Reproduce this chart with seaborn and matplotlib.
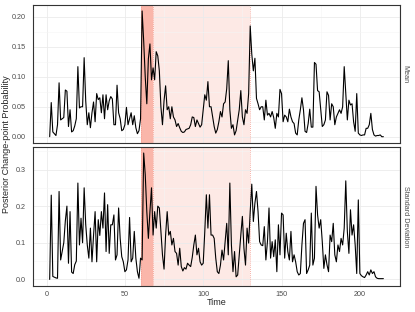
import numpy as np
import pandas as pd
import seaborn as sns
import matplotlib
matplotlib.use("Agg")
import matplotlib.pyplot as plt
from matplotlib.ticker import MultipleLocator, FormatStrFormatter

# time index of the posterior series
time = list(range(2, 216))

mean_prob = [
    0.0, 0.057, 0.008, 0.005, 0.002, 0.02, 0.09, 0.028, 0.03, 0.032,
    0.078, 0.076, 0.017, 0.045, 0.008, 0.01, 0.018, 0.03, 0.117, 0.048,
    0.05, 0.05, 0.132, 0.06, 0.02, 0.04, 0.015, 0.04, 0.058, 0.025,
    0.072, 0.062, 0.065, 0.04, 0.07, 0.03, 0.07, 0.045, 0.06, 0.067,
    0.063, 0.02, 0.02, 0.086, 0.04, 0.03, 0.01, 0.012, 0.02, 0.049,
    0.02, 0.03, 0.04, 0.02, 0.035, 0.015, 0.005, 0.01, 0.03, 0.21,
    0.16, 0.1, 0.055, 0.13, 0.155, 0.095, 0.115, 0.095, 0.142, 0.135,
    0.11, 0.05, 0.02, 0.06, 0.085, 0.045, 0.05, 0.03, 0.05, 0.033,
    0.028, 0.017, 0.022, 0.015, 0.009, 0.007, 0.008, 0.012, 0.013, 0.014,
    0.02, 0.033, 0.032, 0.017, 0.028, 0.022, 0.016, 0.02, 0.045, 0.07,
    0.061, 0.092, 0.05, 0.05, 0.033, 0.017, 0.006, 0.012, 0.025, 0.042,
    0.033, 0.055, 0.058, 0.08, 0.127, 0.045, 0.014, 0.02, 0.003, 0.01,
    0.028, 0.045, 0.077, 0.033, 0.02, 0.045, 0.039, 0.072, 0.185, 0.138,
    0.11, 0.131, 0.064, 0.055, 0.045, 0.05, 0.05, 0.028, 0.061, 0.036,
    0.039, 0.033, 0.042, 0.032, 0.014, 0.039, 0.033, 0.079, 0.072, 0.025,
    0.036, 0.033, 0.025, 0.046, 0.033, 0.025, 0.022, 0.006, 0.003, 0.028,
    0.045, 0.065, 0.045, 0.009, 0.007, 0.022, 0.046, 0.016, 0.016, 0.124,
    0.121, 0.077, 0.075, 0.045, 0.017, 0.02, 0.028, 0.075, 0.069, 0.028,
    0.055, 0.05, 0.02, 0.033, 0.039, 0.045, 0.039, 0.05, 0.117, 0.072,
    0.028, 0.061, 0.053, 0.055, 0.025, 0.009, 0.072, 0.006, 0.003, 0.002,
    0.003, 0.003, 0.014, 0.014, 0.02, 0.039, 0.012, 0.003, 0.001, 0.002,
    0.002, 0.003, 0.0, 0.0,
]

sd_prob = [
    0.0, 0.23, 0.008, 0.006, 0.004, 0.003, 0.24, 0.053, 0.076, 0.1,
    0.16, 0.2, 0.044, 0.185, 0.02, 0.016, 0.04, 0.05, 0.263, 0.094,
    0.167, 0.1, 0.25, 0.15, 0.094, 0.058, 0.14, 0.048, 0.12, 0.185,
    0.048, 0.163, 0.12, 0.185, 0.14, 0.236, 0.076, 0.204, 0.071, 0.149,
    0.149, 0.176, 0.053, 0.067, 0.195, 0.112, 0.062, 0.048, 0.021, 0.026,
    0.053, 0.169, 0.048, 0.058, 0.131, 0.058, 0.021, 0.003, 0.058, 0.053,
    0.345, 0.286, 0.185, 0.112, 0.185, 0.25, 0.121, 0.185, 0.14, 0.2,
    0.195, 0.131, 0.067, 0.028, 0.121, 0.185, 0.121, 0.131, 0.094, 0.112,
    0.076, 0.071, 0.039, 0.085, 0.035, 0.023, 0.032, 0.028, 0.044, 0.039,
    0.035, 0.06, 0.094, 0.121, 0.067, 0.085, 0.048, 0.039, 0.044, 0.13,
    0.231, 0.14, 0.231, 0.121, 0.121, 0.112, 0.058, 0.021, 0.016, 0.039,
    0.08, 0.053, 0.103, 0.153, 0.067, 0.263, 0.094, 0.021, 0.076, 0.007,
    0.012, 0.067, 0.121, 0.172, 0.085, 0.039, 0.14, 0.099, 0.185, 0.26,
    0.158, 0.208, 0.24, 0.185, 0.103, 0.094, 0.092, 0.144, 0.053, 0.103,
    0.195, 0.058, 0.103, 0.062, 0.108, 0.021, 0.149, 0.067, 0.181, 0.176,
    0.058, 0.126, 0.076, 0.053, 0.131, 0.048, 0.067, 0.048, 0.021, 0.012,
    0.016, 0.094, 0.153, 0.163, 0.016, 0.026, 0.039, 0.181, 0.039, 0.058,
    0.254, 0.176, 0.14, 0.163, 0.103, 0.03, 0.067, 0.04, 0.021, 0.121,
    0.103, 0.153, 0.067, 0.048, 0.094, 0.076, 0.112, 0.094, 0.14, 0.269,
    0.131, 0.071, 0.19, 0.121, 0.149, 0.094, 0.016, 0.217, 0.016, 0.01,
    0.007, 0.005, 0.012, 0.021, 0.012, 0.026, 0.016, 0.021, 0.007, 0.003,
    0.002, 0.002, 0.002, 0.002,
]

facets = ["Mean", "Standard Deviation"]
# change-point interval and the wider region it falls in
cp_start, cp_end = 60, 68
region_end = 130

df = pd.concat([
    pd.DataFrame({"time": time, "prob": mean_prob, "facet": facets[0]}),
    pd.DataFrame({"time": time, "prob": sd_prob, "facet": facets[1]}),
])

sns.set_theme(style="white")
plt.rcParams["font.family"] = ["Liberation Sans", "DejaVu Sans"]

fig = plt.figure(figsize=(4.15, 3.12), dpi=100)
ax_top = fig.add_axes([0.0795, 0.5417, 0.8845, 0.4433])
ax_bot = fig.add_axes([0.0795, 0.0843, 0.8845, 0.4455])

for ax, facet in zip([ax_top, ax_bot], facets):
    sub = df[df["facet"] == facet]
    ax.axvspan(cp_end, region_end, color="#FDE9E5", lw=0, zorder=0.5)
    ax.axvspan(cp_start, cp_end, color="#FAB6AA", lw=0, zorder=0.6)
    for xv in [cp_start, cp_end, region_end]:
        ax.axvline(xv, color="#F4978A", lw=0.6, ls=(0, (1, 1.5)), zorder=0.7)
    sns.lineplot(data=sub, x="time", y="prob", color="black", lw=0.8, ax=ax, zorder=3)

    ax.set_xlim(-8.65, 225.65)
    ax.xaxis.set_major_locator(MultipleLocator(50))
    ax.xaxis.set_minor_locator(MultipleLocator(25))
    ax.grid(which="major", color="#EBEBEB", lw=0.6, zorder=0)
    ax.grid(which="minor", color="#F5F5F5", lw=0.4, zorder=0)
    ax.set_axisbelow(True)
    ax.set_xlabel("")
    ax.set_ylabel("")
    for sp in ax.spines.values():
        sp.set_color("#333333")
        sp.set_linewidth(0.8)
    ax.tick_params(axis="both", which="major", length=2.5, width=0.5, color="#333333",
                   labelsize=5.2, labelcolor="#4D4D4D")
    ax.tick_params(axis="y", which="major", pad=2.5)
    ax.tick_params(axis="x", which="major", pad=1.5)
    ax.tick_params(axis="both", which="minor", length=0)
    ax.text(1.0136, 0.5, facet, transform=ax.transAxes, rotation=-90,
            ha="center", va="center", fontsize=5.2, color="#4D4D4D")

ax_top.set_ylim(-0.0105, 0.2205)
ax_top.yaxis.set_major_locator(MultipleLocator(0.05))
ax_top.yaxis.set_minor_locator(MultipleLocator(0.025))
ax_top.yaxis.set_major_formatter(FormatStrFormatter("%.2f"))
ax_top.tick_params(axis="x", labelbottom=False, length=0)

ax_bot.set_ylim(-0.01725, 0.36225)
ax_bot.yaxis.set_major_locator(MultipleLocator(0.1))
ax_bot.yaxis.set_minor_locator(MultipleLocator(0.05))
ax_bot.yaxis.set_major_formatter(FormatStrFormatter("%.1f"))

fig.text(0.522, 1 - 302.5 / 312, "Time", ha="center", va="center", fontsize=6.5)
fig.text(7 / 415, 1 - 144.5 / 312, "Posterior Change-point Probability", rotation=90,
         ha="center", va="center", fontsize=6.5)

fig.savefig("out.png", dpi=100)
